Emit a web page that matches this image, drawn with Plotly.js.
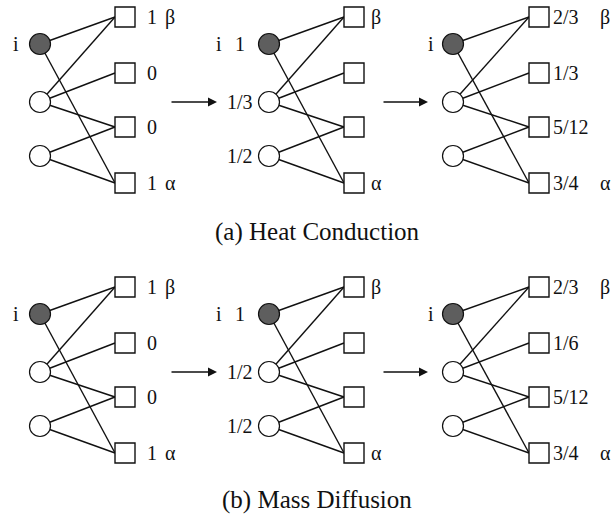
<!DOCTYPE html>
<html>
<head>
<meta charset="utf-8">
<script src="https://cdn.plot.ly/plotly-3.0.1.min.js"></script>
<style>html,body{margin:0;padding:0;background:#fff;}#chart{width:613px;height:518px;}</style>
</head>
<body>
<div id="chart"></div>
<script>
// ---- data ----
const panelCaptions = ['(a) Heat Conduction', '(b) Mass Diffusion'];
const objectTags = ['β', '', '', 'α'];
const initialResource = ['1', '0', '0', '1'];
const userResourceHC = ['1', '1/3', '1/2'];
const finalResourceHC = ['2/3', '1/3', '5/12', '3/4'];
const userResourceMD = ['1', '1/2', '1/2'];
const finalResourceMD = ['2/3', '1/6', '5/12', '3/4'];
const targetUser = 'i';
const edgeUsers   = [0, 0, 1, 1, 1, 2, 2];
const edgeObjects = [0, 3, 0, 1, 2, 2, 3];

// ---- layout constants ----
const circX = [40, 269, 453];
const sqX = [125, 354, 539];
const circY = [44, 102, 156];
const sqY = [17, 73, 127, 183];
const panelDY = [0, 270];
const captionY = [232, 500];
const half = 10;
const ink = '#111';
const serif = 'Liberation Serif';

const panels = [
  {users: userResourceHC, finals: finalResourceHC},
  {users: userResourceMD, finals: finalResourceMD}
];

const ex = [], ey = [];
const cx = [], cy = [], cc = [];
const sx = [], sy = [];
const annotations = [];

function txt(x, y, t, anchor, size) {
  annotations.push({x: x, y: y, xref: 'x', yref: 'y', text: t, showarrow: false,
    xanchor: anchor, yanchor: 'middle', font: {family: serif, size: size || 20, color: ink}});
}

panels.forEach((p, pi) => {
  const dy = panelDY[pi];
  for (let g = 0; g < 3; g++) {
    for (let e = 0; e < edgeUsers.length; e++) {
      ex.push(circX[g], sqX[g] - half, null);
      ey.push(circY[edgeUsers[e]] + dy, sqY[edgeObjects[e]] + dy, null);
    }
    for (let u = 0; u < 3; u++) {
      cx.push(circX[g]); cy.push(circY[u] + dy);
      cc.push(u === 0 ? '#5e5e5e' : '#ffffff');
    }
    for (let o = 0; o < 4; o++) { sx.push(sqX[g]); sy.push(sqY[o] + dy); }
  }
  // left graph labels
  txt(circX[0] - 24, circY[0] + dy, targetUser, 'center');
  for (let o = 0; o < 4; o++) {
    txt(sqX[0] + 20, sqY[o] + dy, initialResource[o], 'left');
    if (objectTags[o]) txt(sqX[0] + 38, sqY[o] + dy, objectTags[o], 'left');
  }
  // middle graph labels
  txt(circX[1] - 50, circY[0] + dy, targetUser, 'center');
  txt(circX[1] - 22, circY[0] + dy, p.users[0], 'right');
  for (let u = 1; u < 3; u++) txt(circX[1] - 14, circY[u] + dy, p.users[u], 'right');
  for (let o = 0; o < 4; o++) if (objectTags[o]) txt(sqX[1] + 15, sqY[o] + dy, objectTags[o], 'left');
  // right graph labels
  txt(circX[2] - 22, circY[0] + dy, targetUser, 'center');
  for (let o = 0; o < 4; o++) {
    txt(sqX[2] + 12, sqY[o] + dy, p.finals[o], 'left');
    if (objectTags[o]) txt(sqX[2] + 59, sqY[o] + dy, objectTags[o], 'left');
  }
  // arrows
  [[170, 217], [382, 428]].forEach(a => {
    annotations.push({x: a[1], y: circY[1] + dy, ax: a[0], ay: circY[1] + dy,
      xref: 'x', yref: 'y', axref: 'x', ayref: 'y', text: '', showarrow: true,
      arrowhead: 2, arrowsize: 1.2, arrowwidth: 1.5, arrowcolor: ink, standoff: 0, startstandoff: 0});
  });
  // caption
  txt(317, captionY[pi], panelCaptions[pi], 'center', 25);
});

const traces = [
  {x: ex, y: ey, mode: 'lines', line: {color: ink, width: 1.4}, hoverinfo: 'skip', showlegend: false},
  {x: cx, y: cy, mode: 'markers', marker: {symbol: 'circle', size: 21, color: cc, line: {color: ink, width: 1.2}}, hoverinfo: 'skip', showlegend: false},
  {x: sx, y: sy, mode: 'markers', marker: {symbol: 'square', size: 20, color: '#ffffff', line: {color: ink, width: 1.4}}, hoverinfo: 'skip', showlegend: false}
];

const layout = {
  width: 613, height: 518, autosize: false,
  margin: {l: 0, r: 0, t: 0, b: 0},
  paper_bgcolor: '#fff', plot_bgcolor: '#fff',
  font: {family: serif, color: ink},
  xaxis: {range: [0, 613], visible: false, fixedrange: true},
  yaxis: {range: [518, 0], visible: false, fixedrange: true},
  annotations: annotations,
  showlegend: false
};

Plotly.newPlot('chart', traces, layout, {staticPlot: true, displayModeBar: false});
</script>
</body>
</html>
